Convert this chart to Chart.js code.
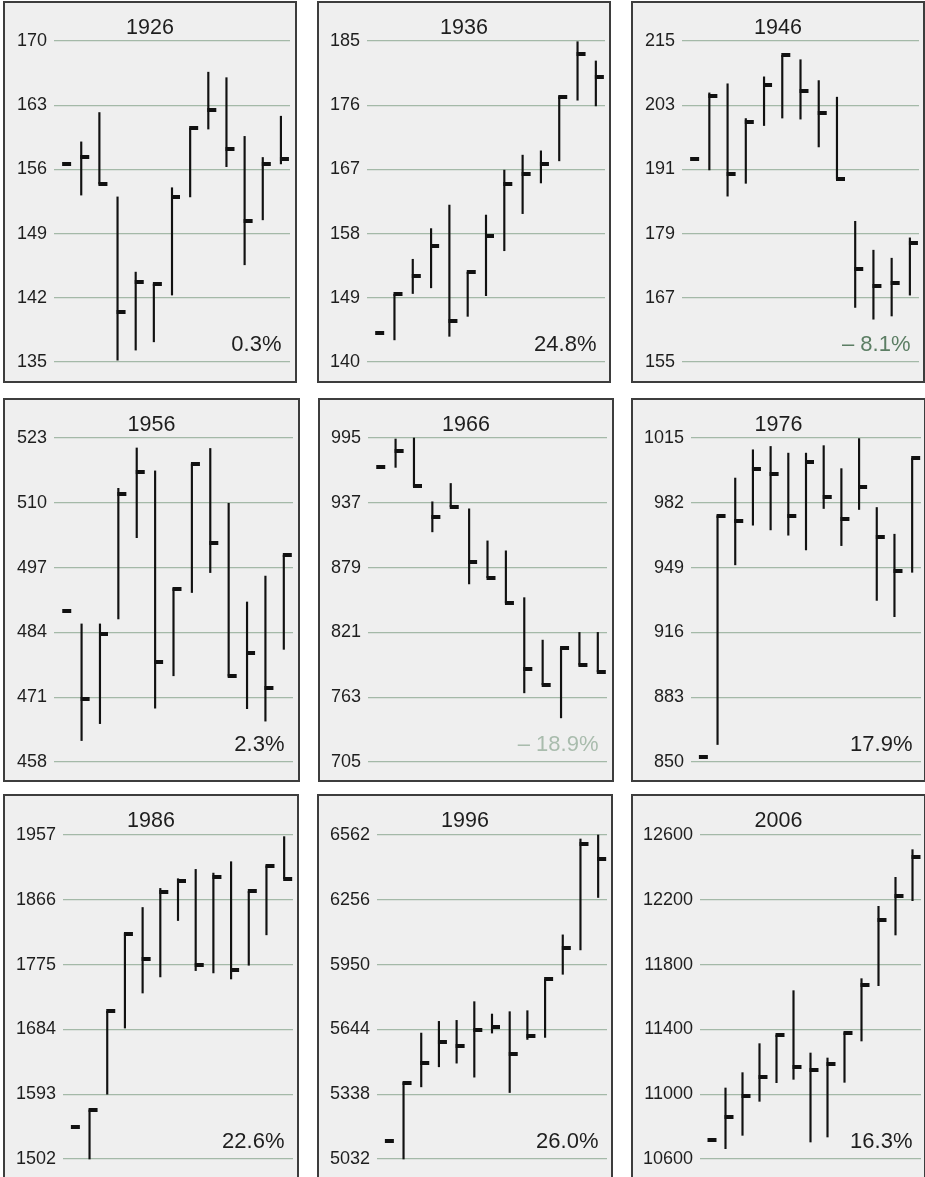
<!DOCTYPE html>
<html>
<head>
<meta charset="utf-8">
<script src="https://cdn.jsdelivr.net/npm/chart.js@4.4.1/dist/chart.umd.min.js"></script>
<style>
  html, body { margin: 0; padding: 0; background: #ffffff; }
  body { position: relative; width: 925px; height: 1177px; overflow: hidden; }
  canvas { position: absolute; }
</style>
</head>
<body>
<script>
// Monthly range (high/low) and close for one year per decade.
// The close list starts with the previous December's close, then Jan..Dec.
const slots = ['Prev', 'Jan', 'Feb', 'Mar', 'Apr', 'May', 'Jun', 'Jul', 'Aug', 'Sep', 'Oct', 'Nov', 'Dec'];
const years = ['1926', '1936', '1946', '1956', '1966', '1976', '1986', '1996', '2006'];
const changeLabels = ['0.3%', '24.8%', '\u2013 8.1%', '2.3%', '\u2013 18.9%', '17.9%', '22.6%', '26.0%', '16.3%'];

const close1926 = [156.6, 157.4, 154.4, 140.4, 143.7, 143.5, 153.0, 160.5, 162.5, 158.2, 150.4, 156.6, 157.1];
const high1926  = [159.0, 162.2, 153.0, 144.8, 143.5, 154.0, 160.5, 166.6, 166.0, 159.6, 157.3, 161.8];
const low1926   = [153.2, 154.4, 135.2, 136.3, 137.2, 142.3, 153.0, 160.4, 156.3, 145.6, 150.5, 156.6];
const ticks1926 = [170, 163, 156, 149, 142, 135];

const close1936 = [144.1, 149.5, 152.1, 156.3, 145.7, 152.6, 157.7, 164.9, 166.3, 167.8, 177.2, 183.2, 179.9];
const high1936  = [149.5, 154.4, 158.7, 162.0, 152.6, 160.6, 166.9, 169.0, 169.6, 177.2, 184.9, 182.2];
const low1936   = [143.1, 149.6, 150.4, 143.6, 146.4, 149.3, 155.6, 160.8, 165.1, 168.2, 176.7, 175.9];
const ticks1936 = [185, 176, 167, 158, 149, 140];

const close1946 = [192.9, 204.7, 190.1, 199.8, 206.8, 212.3, 205.6, 201.6, 189.2, 172.4, 169.2, 169.8, 177.2];
const high1946  = [205.3, 207.0, 200.5, 208.3, 212.3, 211.5, 207.6, 204.5, 181.3, 175.9, 174.4, 178.2];
const low1946   = [190.9, 186.0, 188.4, 199.2, 200.6, 200.4, 195.2, 189.2, 165.2, 163.0, 163.6, 167.5];
const ticks1946 = [215, 203, 191, 179, 167, 155];

const close1956 = [488.3, 470.7, 483.7, 511.7, 516.1, 478.0, 492.8, 517.8, 502.0, 475.2, 479.9, 472.8, 499.5];
const high1956  = [485.7, 485.7, 512.9, 521.0, 516.4, 492.8, 517.8, 520.9, 509.9, 490.1, 495.3, 499.5];
const low1956   = [462.3, 465.7, 486.7, 503.0, 468.8, 475.3, 492.0, 496.0, 475.2, 468.7, 466.2, 480.6];
const ticks1956 = [523, 510, 497, 484, 471, 458];

const close1966 = [969.3, 983.6, 951.7, 924.4, 933.4, 884.1, 870.0, 847.3, 788.4, 774.1, 807.3, 791.7, 785.7];
const high1966  = [994.1, 995.0, 937.9, 954.3, 931.6, 902.9, 894.0, 852.1, 814.1, 807.3, 821.0, 821.0];
const low1966   = [968.7, 951.7, 911.0, 933.4, 864.4, 870.0, 847.3, 766.9, 774.1, 744.5, 791.7, 785.7];
const ticks1966 = [995, 937, 879, 821, 763, 705];

const close1976 = [852.4, 975.4, 972.6, 999.4, 996.8, 975.4, 1002.8, 984.7, 973.7, 990.2, 964.8, 947.3, 1004.6];
const high1976  = [975.4, 994.6, 1009.0, 1010.7, 1007.3, 1007.3, 1011.1, 999.4, 1014.7, 979.6, 966.0, 1004.6];
const low1976   = [858.9, 950.4, 970.6, 968.2, 965.5, 958.0, 979.1, 960.2, 978.6, 932.3, 924.0, 946.6];
const ticks1976 = [1015, 982, 949, 916, 883, 850];

const close1986 = [1546.6, 1571.0, 1709.3, 1818.6, 1783.5, 1876.3, 1892.7, 1775.0, 1898.4, 1767.0, 1877.7, 1913.8, 1895.6];
const high1986  = [1571.0, 1709.3, 1818.6, 1855.2, 1882.0, 1895.6, 1908.7, 1903.5, 1919.5, 1877.7, 1913.8, 1954.7];
const low1986   = [1502.0, 1593.0, 1685.9, 1735.1, 1757.7, 1836.9, 1766.6, 1763.3, 1754.8, 1774.1, 1816.8, 1895.6];
const ticks1986 = [1957, 1866, 1775, 1684, 1593, 1502];

const close1996 = [5117.2, 5393.2, 5484.7, 5585.7, 5566.7, 5640.9, 5653.5, 5527.3, 5614.0, 5880.6, 6027.3, 6521.0, 6448.4];
const high1996  = [5393.2, 5626.7, 5681.9, 5686.6, 5774.9, 5716.6, 5727.6, 5732.3, 5880.6, 6090.4, 6543.1, 6562.0];
const low1996   = [5032.0, 5372.7, 5467.4, 5484.7, 5418.5, 5626.7, 5345.9, 5596.7, 5606.2, 5904.3, 6019.4, 6267.0];
const ticks1996 = [6562, 6256, 5950, 5644, 5338, 5032];

const close2006 = [10715.2, 10861.3, 10988.9, 11106.2, 11365.4, 11165.8, 11147.3, 11184.4, 11379.8, 11676.1, 12077.4, 12221.4, 12462.1];
const high2006  = [11038.3, 11133.0, 11312.0, 11365.4, 11639.1, 11254.3, 11223.5, 11379.8, 11713.2, 12159.7, 12338.7, 12509.5];
const low2006   = [10663.8, 10746.1, 10956.0, 11071.2, 11091.8, 10704.9, 10735.8, 11073.3, 11328.4, 11670.0, 11982.7, 12194.7];
const ticks2006 = [12600, 12200, 11800, 11400, 11000, 10600];

const closes = [close1926, close1936, close1946, close1956, close1966, close1976, close1986, close1996, close2006];
const highs  = [high1926, high1936, high1946, high1956, high1966, high1976, high1986, high1996, high2006];
const lows   = [low1926, low1936, low1946, low1956, low1966, low1976, low1986, low1996, low2006];
const tickSets = [ticks1926, ticks1936, ticks1946, ticks1956, ticks1966, ticks1976, ticks1986, ticks1996, ticks2006];

// Page layout: outer box of each panel and its plotting area (page pixels).
const boxes = [
  { x: 3,   y: 1,   w: 294, h: 382, left: 54,  right: 290, top: 41,  bottom: 362 },
  { x: 317, y: 1,   w: 294, h: 382, left: 367, right: 605, top: 41,  bottom: 362 },
  { x: 631, y: 1,   w: 294, h: 382, left: 682, right: 919, top: 41,  bottom: 362 },
  { x: 3,   y: 398, w: 297, h: 384, left: 54,  right: 293, top: 438, bottom: 762 },
  { x: 318, y: 398, w: 296, h: 384, left: 368, right: 607, top: 438, bottom: 762 },
  { x: 631, y: 398, w: 295, h: 384, left: 691, right: 921, top: 438, bottom: 762 },
  { x: 3,   y: 794, w: 296, h: 386, left: 63,  right: 293, top: 835, bottom: 1159 },
  { x: 317, y: 794, w: 296, h: 386, left: 377, right: 607, top: 835, bottom: 1159 },
  { x: 631, y: 794, w: 295, h: 386, left: 700, right: 922, top: 835, bottom: 1159 }
];

const FONT = '"Liberation Sans", Arial, Helvetica, sans-serif';
const INK = '#1e1e1e';
const GRID = '#a4b9a8';
const changeColors = ['#1e1e1e', '#1e1e1e', '#5c7e64', '#1e1e1e', '#a9bcad', '#1e1e1e', '#1e1e1e', '#1e1e1e', '#1e1e1e'];

// Close marker: a short flag that starts at the range line and points right.
function makeCloseMark() {
  const c = document.createElement('canvas');
  c.width = 18; c.height = 4;
  const g = c.getContext('2d');
  g.fillStyle = '#111111';
  g.fillRect(8, 0, 9, 4);
  return c;
}
const closeMark = makeCloseMark();

// Panel frame, year heading and yearly change label.
const panelDecor = {
  id: 'panelDecor',
  beforeDraw(chart) {
    const { ctx, width, height } = chart;
    ctx.save();
    ctx.fillStyle = '#efefef';
    ctx.fillRect(0, 0, width, height);
    ctx.restore();
  },
  afterDraw(chart, args, opts) {
    const { ctx, width, height, chartArea } = chart;
    ctx.save();
    ctx.strokeStyle = '#3d3d3d';
    ctx.lineWidth = 2;
    ctx.strokeRect(1, 1, width - 2, height - 2);
    ctx.fillStyle = INK;
    ctx.font = '21.5px ' + FONT;
    ctx.textAlign = 'center';
    ctx.textBaseline = 'alphabetic';
    ctx.fillText(opts.year, width / 2, 33);
    ctx.font = '22px ' + FONT;
    ctx.textAlign = 'right';
    ctx.fillStyle = opts.changeColor;
    ctx.fillText(opts.change, chartArea.right - 8.5, chartArea.bottom - 11.5);
    ctx.restore();
  }
};

years.forEach((year, i) => {
  const b = boxes[i];
  const tickVals = tickSets[i];
  const canvas = document.createElement('canvas');
  canvas.width = b.w;
  canvas.height = b.h;
  canvas.style.left = b.x + 'px';
  canvas.style.top = b.y + 'px';
  canvas.style.width = b.w + 'px';
  canvas.style.height = b.h + 'px';
  document.body.appendChild(canvas);

  const ranges = [null].concat(lows[i].map((lo, k) => [lo, highs[i][k]]));
  const axisWidth = b.left - b.x;

  new Chart(canvas, {
    type: 'bar',
    data: {
      labels: slots,
      datasets: [
        {
          type: 'line',
          data: closes[i],
          showLine: false,
          pointStyle: closeMark,
          pointRadius: 4,
          pointHoverRadius: 4,
          clip: false,
          order: 1
        },
        {
          type: 'bar',
          data: ranges,
          backgroundColor: '#111111',
          borderWidth: 0,
          barThickness: 1.5,
          clip: false,
          order: 2
        }
      ]
    },
    options: {
      responsive: false,
      animation: false,
      devicePixelRatio: 1,
      events: [],
      layout: {
        padding: {
          left: 0,
          right: (b.x + b.w) - b.right,
          top: b.top - b.y,
          bottom: (b.y + b.h) - b.bottom
        }
      },
      plugins: {
        legend: { display: false },
        tooltip: { enabled: false },
        title: { display: false },
        panelDecor: { year: year, change: changeLabels[i], changeColor: changeColors[i] }
      },
      scales: {
        x: {
          type: 'category',
          display: false,
          offset: true
        },
        y: {
          type: 'linear',
          min: tickVals[tickVals.length - 1],
          max: tickVals[0],
          afterBuildTicks: axis => { axis.ticks = tickVals.map(v => ({ value: v })); },
          afterFit: axis => { axis.width = axisWidth; },
          border: { display: false },
          grid: { color: GRID, lineWidth: 1.3, drawTicks: false },
          ticks: {
            autoSkip: false,
            padding: 7,
            color: INK,
            font: { family: FONT, size: 18 },
            callback: v => String(v)
          }
        }
      }
    },
    plugins: [panelDecor]
  });
});
</script>
</body>
</html>
